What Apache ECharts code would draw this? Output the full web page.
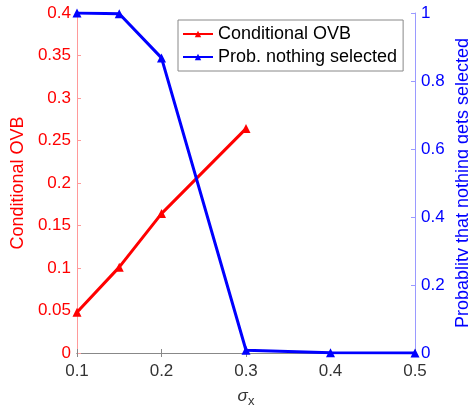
<!DOCTYPE html>
<html>
<head>
<meta charset="utf-8">
<script src="https://cdn.jsdelivr.net/npm/echarts@6/dist/echarts.min.js"></script>
<style>
html,body{margin:0;padding:0;background:#fff;}
#chart{width:468px;height:413px;}
</style>
</head>
<body>
<div id="chart"></div>
<script>
// sigma_x values at which each quantity was evaluated
var sigmaOvb = [0.1, 0.15, 0.2, 0.3];
var condOvb = [0.048, 0.101, 0.164, 0.264];
var sigmaProb = [0.1, 0.15, 0.2, 0.3, 0.4, 0.5];
var probNone = [1.0, 0.998, 0.868, 0.008, 0.001, 0.0];

function pairs(xs, ys) {
  return xs.map(function (x, i) { return [x, ys[i]]; });
}

var FONT = 'Liberation Sans, Arial, Helvetica, sans-serif';
var chart = echarts.init(document.getElementById('chart'), null, {renderer: 'canvas'});

chart.setOption({
  animation: false,
  backgroundColor: '#fff',
  textStyle: {fontFamily: FONT},
  grid: {left: 77, right: 53, top: 13, bottom: 60, outerBoundsMode: 'none', containLabel: false},
  legend: {
    orient: 'vertical',
    left: 178,
    top: 20,
    itemWidth: 30,
    itemHeight: 8,
    itemGap: 3,
    padding: [4, 6, 4, 4],
    borderColor: '#888',
    borderWidth: 1,
    backgroundColor: '#fff',
    textStyle: {fontSize: 18, color: '#000', fontFamily: FONT, lineHeight: 20},
    data: ['Conditional OVB', 'Prob. nothing selected']
  },
  // right-hand axis title, written bottom-to-top beside the probability axis
  graphic: [{
    type: 'text',
    x: 463,
    y: 183,
    rotation: Math.PI / 2,
    silent: true,
    style: {
      text: 'Probablity that nothing gets selected',
      fill: '#0000ff',
      font: '18px ' + FONT,
      align: 'center',
      verticalAlign: 'middle'
    }
  }],
  xAxis: [{
    type: 'value',
    min: 0.1, max: 0.5, interval: 0.1,
    name: '{s|σ}{sub|x}',
    nameLocation: 'middle',
    nameGap: 32,
    nameTextStyle: {
      rich: {
        s: {fontSize: 17, fontStyle: 'italic', color: '#333', fontFamily: FONT},
        sub: {fontSize: 13, color: '#333', padding: [10, 0, 0, 0], fontFamily: FONT}
      }
    },
    axisLine: {show: true, lineStyle: {color: '#888', width: 1}},
    axisTick: {show: true, inside: true, length: 4, lineStyle: {color: '#888'}},
    axisLabel: {fontSize: 17, color: '#333', margin: 10,
      formatter: function (v) { return String(+v.toFixed(2)); }},
    splitLine: {show: false}
  }, {
    type: 'value', position: 'top',
    min: 0.1, max: 0.5, interval: 0.1,
    axisLine: {show: true, lineStyle: {color: '#888', width: 1}},
    axisTick: {show: true, inside: true, length: 4, lineStyle: {color: '#888'}},
    axisLabel: {show: false},
    splitLine: {show: false}
  }],
  yAxis: [{
    type: 'value',
    min: 0, max: 0.4, interval: 0.05,
    name: 'Conditional OVB',
    nameLocation: 'middle',
    nameGap: 50,
    nameTextStyle: {fontSize: 18, color: '#ff0000', fontFamily: FONT},
    axisLine: {show: true, lineStyle: {color: '#ff9a9a', width: 1}},
    axisTick: {show: true, inside: true, length: 4, lineStyle: {color: '#ff9a9a'}},
    axisLabel: {fontSize: 17, color: '#ff0000', margin: 6,
      formatter: function (v) { return String(+v.toFixed(2)); }},
    splitLine: {show: false}
  }, {
    type: 'value',
    position: 'right',
    min: 0, max: 1, interval: 0.2,
    axisLine: {show: true, lineStyle: {color: '#9a9aff', width: 1}},
    axisTick: {show: true, inside: true, length: 4, lineStyle: {color: '#9a9aff'}},
    axisLabel: {fontSize: 17, color: '#0000ff', margin: 6,
      formatter: function (v) { return String(+v.toFixed(1)); }},
    splitLine: {show: false}
  }],
  series: [{
    name: 'Conditional OVB',
    type: 'line',
    xAxisIndex: 0, yAxisIndex: 0,
    data: pairs(sigmaOvb, condOvb),
    symbol: 'triangle',
    symbolSize: 9,
    color: '#ff0000',
    lineStyle: {width: 3, color: '#ff0000'},
    itemStyle: {color: '#ff0000'},
    z: 3
  }, {
    name: 'Prob. nothing selected',
    type: 'line',
    xAxisIndex: 0, yAxisIndex: 1,
    data: pairs(sigmaProb, probNone),
    symbol: 'triangle',
    symbolSize: 9,
    color: '#0000ff',
    lineStyle: {width: 3, color: '#0000ff'},
    itemStyle: {color: '#0000ff'},
    z: 4
  }]
});
</script>
</body>
</html>
